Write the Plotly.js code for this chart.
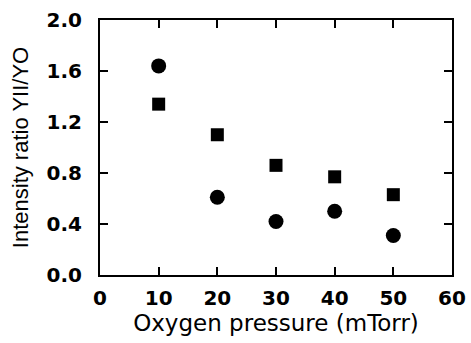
<!DOCTYPE html>
<html><head><meta charset="utf-8">
<script src="https://cdn.plot.ly/plotly-3.0.1.min.js"></script>
<style>html,body{margin:0;padding:0;background:#fff;}#c{width:471px;height:343px;}</style>
</head><body><div id="c"></div>
<script>
const pressure = [10, 20, 30, 40, 50];
const circleRatio = [1.64, 0.61, 0.42, 0.50, 0.31];
const squareRatio = [1.34, 1.10, 0.86, 0.77, 0.63];
const xTicks = [0, 10, 20, 30, 40, 50, 60];
const yTicks = [0.0, 0.4, 0.8, 1.2, 1.6, 2.0];
const yTickText = ['0.0', '0.4', '0.8', '1.2', '1.6', '2.0'];

const traces = [
  {x: pressure, y: circleRatio, mode: 'markers', type: 'scatter',
   marker: {symbol: 'circle', size: 15, color: '#000'}},
  {x: pressure, y: squareRatio, mode: 'markers', type: 'scatter',
   marker: {symbol: 'square', size: 13, color: '#000'}}
];
const tickFont = {family: 'DejaVu Sans', size: 20, color: '#000', weight: 'bold'};
const xTitleFont = {family: 'DejaVu Sans', size: 23, color: '#000'};
const yTitleFont = {family: 'Liberation Sans, Arial, sans-serif', size: 22, color: '#000'};
const layout = {
  width: 471, height: 343, showlegend: false,
  paper_bgcolor: '#fff', plot_bgcolor: '#fff',
  margin: {l: 100, r: 19, t: 20, b: 68},
  xaxis: {range: [0, 60], tickvals: xTicks, ticktext: xTicks.map(String),
    ticks: 'inside', ticklen: 8, tickwidth: 2, tickcolor: '#000',
    showline: true, linewidth: 2, linecolor: '#000', mirror: 'ticks',
    showgrid: false, zeroline: false, tickfont: tickFont, ticklabelstandoff: 4,
    title: {text: 'Oxygen pressure (mTorr)', font: xTitleFont, standoff: 1}},
  yaxis: {range: [0, 2.0], tickvals: yTicks, ticktext: yTickText,
    ticks: 'inside', ticklen: 8, tickwidth: 2, tickcolor: '#000',
    showline: true, linewidth: 2, linecolor: '#000', mirror: 'ticks',
    showgrid: false, zeroline: false, tickfont: tickFont, ticklabelstandoff: 12,
    title: {text: 'Intensity ratio YII/YO', font: yTitleFont, standoff: 12}}
};
Plotly.newPlot('c', traces, layout, {displayModeBar: false, staticPlot: true});
</script></body></html>
